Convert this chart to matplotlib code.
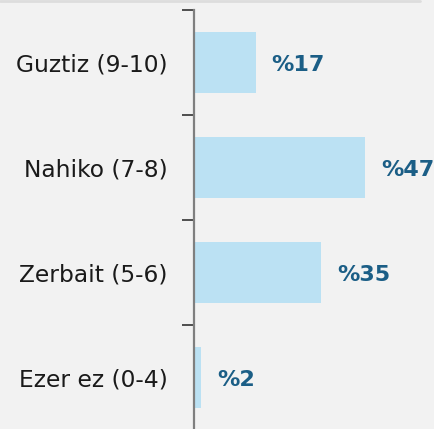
import matplotlib.pyplot as plt
from matplotlib.lines import Line2D

# survey answer groups, top to bottom
categories = ['Guztiz (9-10)', 'Nahiko (7-8)', 'Zerbait (5-6)', 'Ezer ez (0-4)']
percent = [17, 47, 35, 2]

bar_color = '#BBE1F3'
label_color = '#1B5E86'
bg = '#F2F2F2'

fig = plt.figure(figsize=(4.34, 4.29), dpi=100, facecolor=bg)
W, H = 434, 429
ax = fig.add_axes([194 / W, -1 / H, 1 - 194 / W, 420 / H])
ax.set_facecolor(bg)

pos = list(range(len(categories)))[::-1]
ax.barh(pos, percent, height=0.59, color=bar_color, zorder=2)

for y, v in zip(pos, percent):
    ax.text(v + 4.3, y - 0.02, f'%{v}', va='center', ha='left', fontsize=16,
            fontweight='bold', color=label_color, family='DejaVu Sans')

ax.set_xlim(0, 65.9)
ax.set_ylim(-0.5, 3.5)

# category names sit between the boundary ticks
ax.set_yticks(pos)
ax.set_yticklabels(categories, fontsize=16.8, color='#1A1A1A', family='DejaVu Sans')
ax.tick_params(axis='y', which='major', length=0, pad=19)
ax.set_yticks([-0.5, 0.5, 1.5, 2.5, 3.5], minor=True)
ax.tick_params(axis='y', which='minor', length=9, width=1.2, color='#333333')
ax.set_xticks([])

for side in ['top', 'right', 'bottom']:
    ax.spines[side].set_visible(False)
ax.spines['left'].set_color('#7F7F7F')
ax.spines['left'].set_linewidth(1.6)

# faint strip along the top edge
fig.add_artist(Line2D([0, 420 / W], [1 - 1 / H, 1 - 1 / H], transform=fig.transFigure,
                      color='#DDDDDD', linewidth=2, solid_capstyle='round'))

fig.savefig('out.png', dpi=100, facecolor=bg)
